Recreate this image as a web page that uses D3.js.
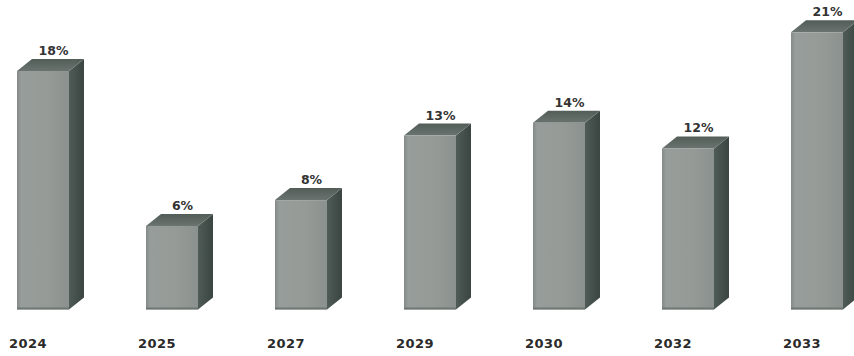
<!DOCTYPE html>
<html><head><meta charset="utf-8">
<script src="https://cdn.jsdelivr.net/npm/d3@7"></script>
<style>body{margin:0;background:#fff}svg{display:block}</style>
</head><body>
<svg id="c" width="854" height="356"></svg>
<script>
const years = ["2024","2025","2027","2029","2030","2032","2033"];
const values = [18, 6, 8, 13, 14, 12, 21];
const valueLabels = ["18%","6%","8%","13%","14%","12%","21%"];

const svg = d3.select("#c");
const dx = 15, dy = -12, floor = 6;

const x = d3.scaleBand().domain(years).range([17, 843]).paddingInner(0.597).paddingOuter(0);
const y = d3.scaleLinear().domain([0, 23.5]).range([303.4, 0]);

const defs = svg.append("defs");
const gf = defs.append("linearGradient").attr("id","front").attr("x1",0).attr("x2",1).attr("y1",0).attr("y2",0);
gf.append("stop").attr("offset",0).attr("stop-color","#848b87");
gf.append("stop").attr("offset",0.08).attr("stop-color","#979d9a");
gf.append("stop").attr("offset",0.6).attr("stop-color","#959a97");
gf.append("stop").attr("offset",1).attr("stop-color","#8b918e");
const gs = defs.append("linearGradient").attr("id","side").attr("x1",0).attr("x2",1).attr("y1",0).attr("y2",0);
gs.append("stop").attr("offset",0).attr("stop-color","#4f5b57");
gs.append("stop").attr("offset",1).attr("stop-color","#3a4541");
const gt = defs.append("linearGradient").attr("id","top").attr("x1",0).attr("x2",0).attr("y1",1).attr("y2",0);
gt.append("stop").attr("offset",0).attr("stop-color","#6a736f");
gt.append("stop").attr("offset",1).attr("stop-color","#525d58");

const g = svg.append("g");
const bars = g.selectAll("g.bar").data(years).join("g").attr("class","bar");
const bw = x.bandwidth();
const bottom = y(0) + floor;

bars.each(function(d, i) {
  const gg = d3.select(this);
  const x0 = x(d), x1 = x0 + bw, top = y(values[i]);
  gg.append("path").attr("d", `M${x1},${top}L${x1+dx},${top+dy}L${x1+dx},${bottom+dy}L${x1},${bottom}Z`)
    .attr("fill","url(#side)");
  gg.append("path").attr("d", `M${x0},${top}L${x0+dx},${top+dy}L${x1+dx},${top+dy}L${x1},${top}Z`)
    .attr("fill","url(#top)");
  gg.append("rect").attr("x", x0).attr("y", top).attr("width", bw).attr("height", bottom - top)
    .attr("fill","url(#front)");
  gg.append("line").attr("x1", x0).attr("x2", x1).attr("y1", bottom-1).attr("y2", bottom-1)
    .attr("stroke","#6f7773").attr("stroke-width",2);
  gg.append("text").attr("x", x0 + bw/2 + dx/2 + 3).attr("y", top + dy - 4)
    .attr("text-anchor","middle").attr("font-family","DejaVu Sans").attr("font-size",12.5)
    .attr("font-weight","bold").attr("fill","#333").text(valueLabels[i]);
  gg.append("text").attr("x", x0 + bw/2 - 15).attr("y", 348)
    .attr("text-anchor","middle").attr("font-family","DejaVu Sans").attr("font-size",13)
    .attr("font-weight","bold").attr("letter-spacing",0.5).attr("fill","#2a2a2a").text(d);
});
</script>
</body></html>
